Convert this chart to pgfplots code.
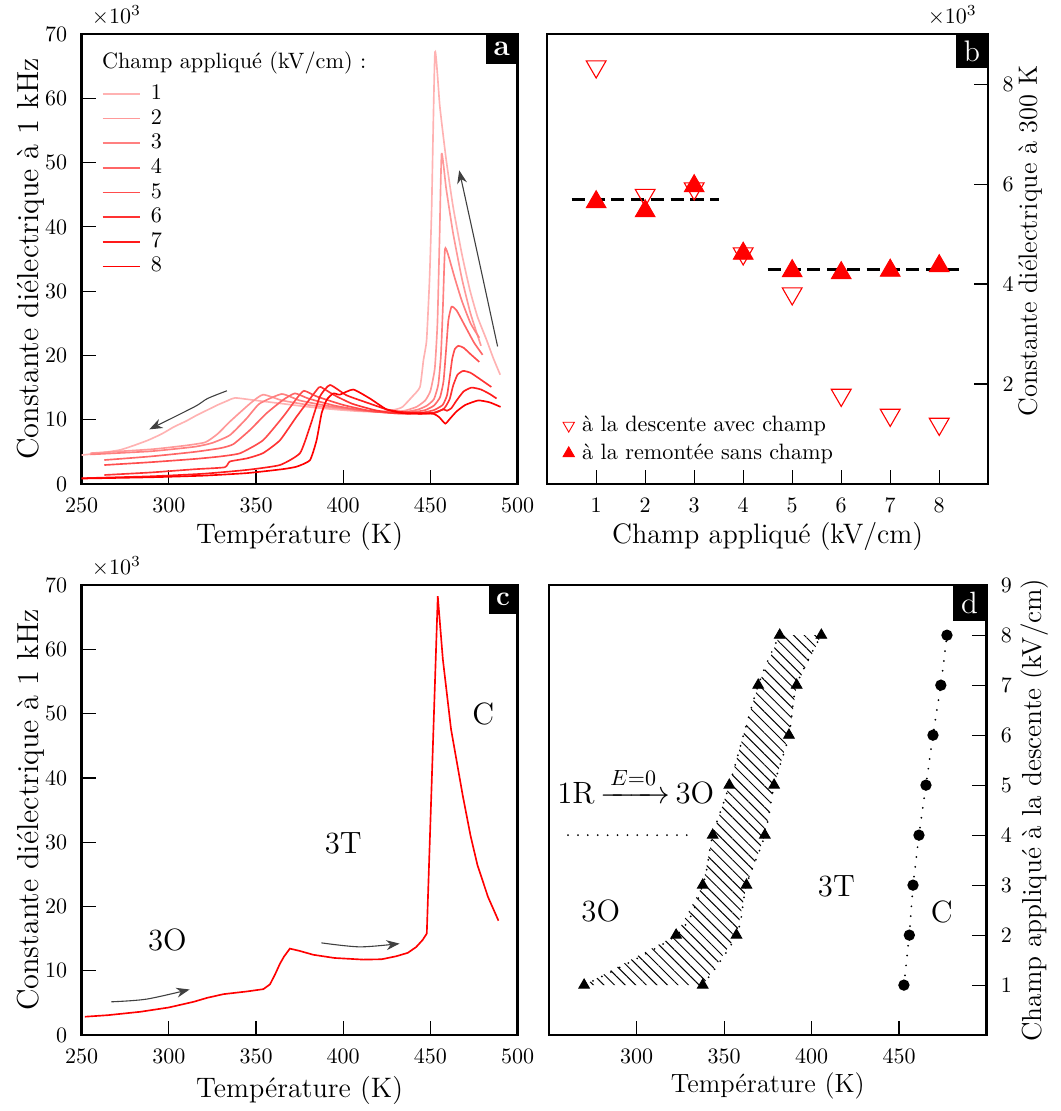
\documentclass[border=0pt]{standalone}
\usepackage{amsmath}
\usepackage{pgfplots}
\pgfplotsset{compat=1.18}
\usetikzlibrary{patterns.meta,arrows.meta}
\definecolor{cA}{RGB}{255,178,178}
\definecolor{cB}{RGB}{255,153,153}
\definecolor{cC}{RGB}{255,128,128}
\definecolor{cD}{RGB}{255,102,102}
\definecolor{cE}{RGB}{255,77,77}
\definecolor{cF}{RGB}{255,51,51}
\definecolor{cG}{RGB}{255,26,26}
\definecolor{cH}{RGB}{255,0,0}
\pgfplotsset{
  myax/.style={scale only axis, height=204.5pt, tick align=inside, major tick length=6.5pt,
    axis line style={line width=1.1pt}, every tick/.style={black, line width=0.5pt},
    tick label style={font=\fontsize{9.6}{11}\selectfont},
    xtick pos=bottom, xticklabel style={yshift=-3pt}, scaled ticks=false, clip=false},
  crv/.style={color=#1, line width=0.75pt, smooth, tension=0.3},
}
\tikzset{
  lab/.style={fill=black, text=white, anchor=north east, inner sep=0pt},
  arr/.style={black!75, line width=0.5pt, -{Stealth[length=6pt,width=4.5pt]}, smooth},
  dots/.style={black, line width=0.9pt, dash pattern=on 0pt off 4.5pt, line cap=round},
}
\begin{document}
\begin{tikzpicture}
\path[use as bounding box] (-37.1pt,-285pt) rectangle (445.1pt,220pt);
% ---------------- panel a
\begin{axis}[myax, at={(0pt,0pt)}, anchor=south west, width=198.2pt,
  xmin=250, xmax=500, ymin=0, ymax=70, xtick={250,300,...,500}, ytick={0,10,...,70},
  ytick pos=left, yticklabel style={xshift=-3pt},
  xlabel={Température (K)}, ylabel={Constante diélectrique à 1 kHz},
  every axis x label/.style={at={([yshift=-24pt]rel axis cs:0.5,0)}, anchor=center, font=\fontsize{12.8}{15}\selectfont},
  every axis y label/.style={at={([xshift=-23pt]rel axis cs:0,0.5)}, anchor=center, rotate=90, font=\fontsize{13.8}{16}\selectfont},
  legend style={draw=none, fill=none, at={(rel axis cs:0.03,0.905)}, anchor=north west,
    font=\fontsize{10.1}{12}\selectfont, nodes={inner sep=1.5pt, text height=6.6pt, text depth=1.5pt}, row sep=0.1pt,
    /tikz/every odd column/.append style={column sep=3pt}},
  legend cell align=left]
\addplot[crv=cA] coordinates {(250,4.5)(260,4.8)(272,5.3)(280,6.0)(288,6.8)(296,7.8)(303,8.9)(310,9.8)(316,10.7)(322,11.5)(328,12.3)(334,13.0)(338,13.4)(350,13.0)(365,12.5)(380,12.0)(395,11.6)(410,11.3)(422,11.3)(430,11.6)(434,12.0)(439.6,13.6)(444,15.1)(446,19.3)(447.8,22.4)(449.5,32)(450.7,43.1)(452.6,67.2)(455.4,58.7)(459,50.5)(463,43.1)(468,35.8)(472.6,30.2)(477,26.0)(482.2,22.4)(486,19.6)(490,17.0)};
\addlegendentry{1}
\addplot[crv=cB] coordinates {(255,4.8)(290,5.4)(310,6.0)(321,6.5)(328,7.8)(335,9.7)(346.5,12.5)(354,13.9)(365,13.0)(380,12.3)(395,11.8)(410,11.4)(425,11.2)(435,11.4)(442,12.0)(447,13.0)(450,14.5)(452.5,18)(454,25)(455.2,38)(456.4,51.4)(459,46)(463,39)(468,32)(473,26.5)(479,21.5)};
\addlegendentry{2}
\addplot[crv=cC] coordinates {(255,4.6)(290,5.1)(315,5.8)(325,6.4)(335,7.6)(344.6,10.2)(352,12.5)(364.7,14.0)(375,13.0)(390,12.2)(405,11.6)(420,11.2)(435,11.2)(443,11.6)(448,12.2)(452,13.2)(454.5,15.5)(456,20)(457.2,28)(458.3,36.5)(460,35.8)(464,32)(468,28.5)(473,25)(478,22.75)};
\addlegendentry{3}
\addplot[crv=cD] coordinates {(263,3.73)(290,4.3)(315,5.0)(330,5.6)(337,6.2)(346.5,8.4)(356,11.0)(365.6,13.1)(372.3,14.1)(380,13.3)(395,12.2)(410,11.5)(425,11.1)(440,11.2)(447,11.5)(452,12.2)(455.5,13.5)(457.5,16)(459,21)(460.3,25.5)(462.1,27.6)(465,27)(470,24.5)(475,22)(479.9,20.1)};
\addlegendentry{4}
\addplot[crv=cE] coordinates {(263,2.95)(290,3.4)(315,3.9)(330,4.3)(341,4.8)(354,6.8)(365.6,10.5)(373.3,13.3)(377.5,14.5)(385,13.6)(400,12.3)(415,11.4)(430,11.0)(445,11.1)(452,11.5)(457,12.3)(459.5,13.8)(461,16.5)(462.5,19.5)(464,21)(466,21.5)(469,21.2)(473,20.2)(478,19.0)};
\addlegendentry{5}
\addplot[crv=cF] coordinates {(263,1.4)(290,1.8)(315,2.3)(332,2.6)(335,3.5)(345,4.0)(354,4.8)(363.7,6.8)(373.3,10.5)(384.7,14.6)(387,15.1)(395,13.8)(405,12.5)(418,11.5)(430,11.0)(445,10.9)(453,11.1)(458,11.8)(461,13.2)(463,15.3)(465.5,17)(468.8,17.6)(473,17.3)(478,16.4)(484.9,15.1)};
\addlegendentry{6}
\addplot[crv=cG] coordinates {(250,0.9)(290,1.2)(320,1.6)(345,2.2)(363.7,2.95)(375.2,4.8)(380.9,8.9)(386.6,13.6)(392.4,15.4)(401.9,13.8)(415.3,12.5)(425,11.6)(434,11.2)(445,11.0)(452,11.1)(457.4,11.6)(459.5,11.4)(462,11.8)(465,13)(469,14.4)(473.6,15.0)(479,14.7)(484,14.0)(487.9,13.3)};
\addlegendentry{7}
\addplot[crv=cH] coordinates {(250,0.85)(290,1.05)(320,1.3)(345,1.7)(365,2.3)(373.3,2.7)(380.9,3.7)(384.7,6.8)(387.6,11.0)(390.5,13.1)(394.3,14.1)(398,13.9)(405.7,14.7)(415.3,13.3)(424.9,11.6)(434.5,11.0)(446,11.0)(452,10.9)(455,10.4)(458.5,9.4)(461,10.1)(465,11.3)(470,12.3)(477.4,13.0)(484,12.7)(490.2,12.0)};
\addlegendentry{8}
\addplot[arr, forget plot] coordinates {(333.3,14.5)(322.2,13.3)(314.6,12.0)(288.8,8.5)};
\addplot[arr, forget plot] coordinates {(488.5,21.4)(477.4,35.3)(466.5,48.8)};
\node[anchor=west, inner sep=0pt, font=\fontsize{10.1}{12}\selectfont] at ([xshift=9.1pt,yshift=-13.3pt]rel axis cs:0,1) {Champ appliqué (kV/cm) :};
\node[lab, minimum width=14.1pt, minimum height=13.3pt, font=\bfseries\fontsize{13.5}{14}\selectfont] at (rel axis cs:1,1) {a};
\node[anchor=south west, inner sep=0pt, font=\fontsize{9.6}{11}\selectfont] at ([xshift=4.5pt,yshift=4pt]rel axis cs:0,1) {$\times10^{3}$};
\end{axis}
% ---------------- panel b
\begin{axis}[myax, at={(211.6pt,0pt)}, anchor=south west, width=200.5pt,
  xmin=0, xmax=9, ymin=0, ymax=9, xtick={1,...,8}, ytick={2,4,6,8},
  ytick pos=right, yticklabel pos=right, yticklabel style={xshift=3pt},
  xlabel={Champ appliqué (kV/cm)}, ylabel={Constante diélectrique à 300 K},
  every axis x label/.style={at={([yshift=-24pt]rel axis cs:0.5,0)}, anchor=center, font=\fontsize{12.8}{15}\selectfont},
  every axis y label/.style={at={([xshift=19pt]rel axis cs:1,0.54)}, anchor=center, rotate=90, font=\fontsize{12}{14}\selectfont},
  legend style={draw=none, fill=none, at={(rel axis cs:0.02,0.03)}, anchor=south west,
    font=\fontsize{10.1}{12}\selectfont, nodes={inner sep=1.5pt, text height=6.6pt, text depth=1.5pt}, row sep=1.6pt,
    /tikz/every odd column/.append style={column sep=2pt}},
  legend cell align=left]
\addlegendimage{only marks, mark=triangle, mark size=3pt, mark options={draw=red, fill=none, rotate=180}}
\addlegendentry{à la descente avec champ}
\addlegendimage{only marks, mark=triangle*, mark size=3pt, red}
\addlegendentry{à la remontée sans champ}
\addplot[only marks, mark=triangle*, mark size=5.2pt, red, forget plot] coordinates {(1,5.64)(2,5.46)(3,5.96)(4,4.61)(5,4.26)(6,4.22)(7,4.27)(8,4.36)};
\addplot[black, line width=1.4pt, dash pattern=on 6pt off 3pt, forget plot] coordinates {(0.5,5.7)(3.5,5.7)};
\addplot[black, line width=1.4pt, dash pattern=on 6pt off 3pt, forget plot] coordinates {(4.5,4.3)(8.5,4.3)};
\addplot[only marks, mark=triangle, mark size=5.2pt, mark options={draw=red, fill=none, rotate=180, line width=0.5pt}, forget plot] coordinates {(1,8.35)(2,5.78)(3,5.91)(4,4.61)(5,3.81)(6,1.78)(7,1.38)(8,1.2)};
\node[lab, minimum width=14.5pt, minimum height=15pt, font=\fontsize{13.5}{14}\selectfont] at (rel axis cs:1,1) {b};
\node[anchor=south east, inner sep=0pt, font=\fontsize{9.6}{11}\selectfont] at ([xshift=-5pt,yshift=4pt]rel axis cs:1,1) {$\times10^{3}$};
\end{axis}
% ---------------- panel c
\begin{axis}[myax, at={(0pt,-250.5pt)}, anchor=south west, width=198.2pt,
  xmin=250, xmax=500, ymin=0, ymax=70, xtick={250,300,...,500}, ytick={0,10,...,70},
  ytick pos=left, yticklabel style={xshift=-3pt},
  xlabel={Température (K)}, ylabel={Constante diélectrique à 1 kHz},
  every axis x label/.style={at={([yshift=-25pt]rel axis cs:0.5,0)}, anchor=center, font=\fontsize{12.8}{15}\selectfont},
  every axis y label/.style={at={([xshift=-23pt]rel axis cs:0,0.5)}, anchor=center, rotate=90, font=\fontsize{13.8}{16}\selectfont}]
\addplot[red, line width=0.75pt] coordinates {(251.9,2.86)(265,3.1)(283.7,3.63)(300,4.3)(314.2,5.18)(322,5.8)(331.3,6.37)(345,6.8)(354.2,7.15)(358,7.9)(361,9.5)(363.7,11.1)(366,12.2)(369.4,13.46)(375,13.1)(382.8,12.5)(395,12.0)(411.4,11.75)(422,11.8)(430.4,12.27)(437,12.8)(441.8,13.7)(445.5,14.8)(447.9,15.8)(454.2,68.3)(457.1,58.5)(461.8,47.6)(468.5,37.3)(473,31)(477,26.4)(483,21.5)(489,17.8)};
\addplot[arr] coordinates {(267,5.18)(287.3,5.6)(311.9,7.1)};
\addplot[arr] coordinates {(387.5,14.35)(409.6,13.73)(432.3,14.24)};
\node[anchor=base, font=\fontsize{14}{16}\selectfont] at (axis cs:299.2,13.2) {3O};
\node[anchor=base, font=\fontsize{14}{16}\selectfont] at (axis cs:400,28.2) {3T};
\node[anchor=base, font=\fontsize{14}{16}\selectfont] at (axis cs:480.3,48.3) {C};
\node[lab, minimum width=12.9pt, minimum height=12.9pt, font=\bfseries\fontsize{12.5}{13}\selectfont] at (rel axis cs:1,1) {c};
\node[anchor=south west, inner sep=0pt, font=\fontsize{9.6}{11}\selectfont] at ([xshift=4.5pt,yshift=4pt]rel axis cs:0,1) {$\times10^{3}$};
\end{axis}
% ---------------- panel d
\begin{axis}[myax, at={(212.5pt,-250.5pt)}, anchor=south west, width=198.8pt,
  xmin=250, xmax=500, ymin=0, ymax=9, xtick={300,350,400,450}, ytick={1,...,9},
  ytick pos=right, yticklabel pos=right, yticklabel style={xshift=3pt},
  xlabel={Température (K)}, ylabel={Champ appliqué à la descente (kV/cm)},
  every axis x label/.style={at={([yshift=-23pt]rel axis cs:0.5,0)}, anchor=center, font=\fontsize{12}{14}\selectfont},
  every axis y label/.style={at={([xshift=22pt]rel axis cs:1,0.5)}, anchor=center, rotate=90, font=\fontsize{12.5}{15}\selectfont}]
\addplot[pattern={Lines[angle=-45,distance=3.4pt,line width=0.45pt]}, draw=none] coordinates {(270,1)(322.6,2)(337.8,3)(343.5,4)(353,5)(361,6)(369.5,7)(381.8,8)(405.6,8)(391.5,7)(387.1,6)(378.6,5)(373.3,4)(362.8,3)(357.1,2)(337.8,1)} -- cycle;
\addplot[dots, smooth] coordinates {(270,1)(322.6,2)(337.8,3)(343.5,4)(353,5)(369.5,7)(381.8,8)};
\addplot[dots, smooth] coordinates {(337.8,1)(357.1,2)(362.8,3)(373.3,4)(378.6,5)(387.1,6)(391.5,7)(405.6,8)};
\addplot[only marks, mark=triangle*, mark size=2.8pt, black] coordinates {(270,1)(322.6,2)(337.8,3)(343.5,4)(353,5)(369.5,7)(381.8,8)(337.8,1)(357.1,2)(362.8,3)(373.3,4)(378.6,5)(387.1,6)(391.5,7)(405.6,8)};
\addplot[dots, mark=*, mark size=2.1pt, mark options={solid, fill=black}] coordinates {(452.8,1)(455.9,2)(458,3)(461.4,4)(465.4,5)(469.4,6)(473.9,7)(477.4,8)};
\addplot[dots] coordinates {(260.8,4)(330.2,4)};
\node[anchor=base, font=\fontsize{14}{16}\selectfont] at (axis cs:299.5,4.63) {1R\hspace{2.5pt}$\xrightarrow{\,E=0\,}$\hspace{2.5pt}3O};
\node[anchor=base, font=\fontsize{14}{16}\selectfont] at (axis cs:279.5,2.27) {3O};
\node[anchor=base, font=\fontsize{14}{16}\selectfont] at (axis cs:414.2,2.77) {3T};
\node[anchor=base, font=\fontsize{14}{16}\selectfont] at (axis cs:474.5,2.26) {C};
\node[lab, minimum width=15pt, minimum height=16pt, font=\fontsize{14}{14}\selectfont] at (rel axis cs:1,1) {d};
\end{axis}
\end{tikzpicture}
\end{document}
